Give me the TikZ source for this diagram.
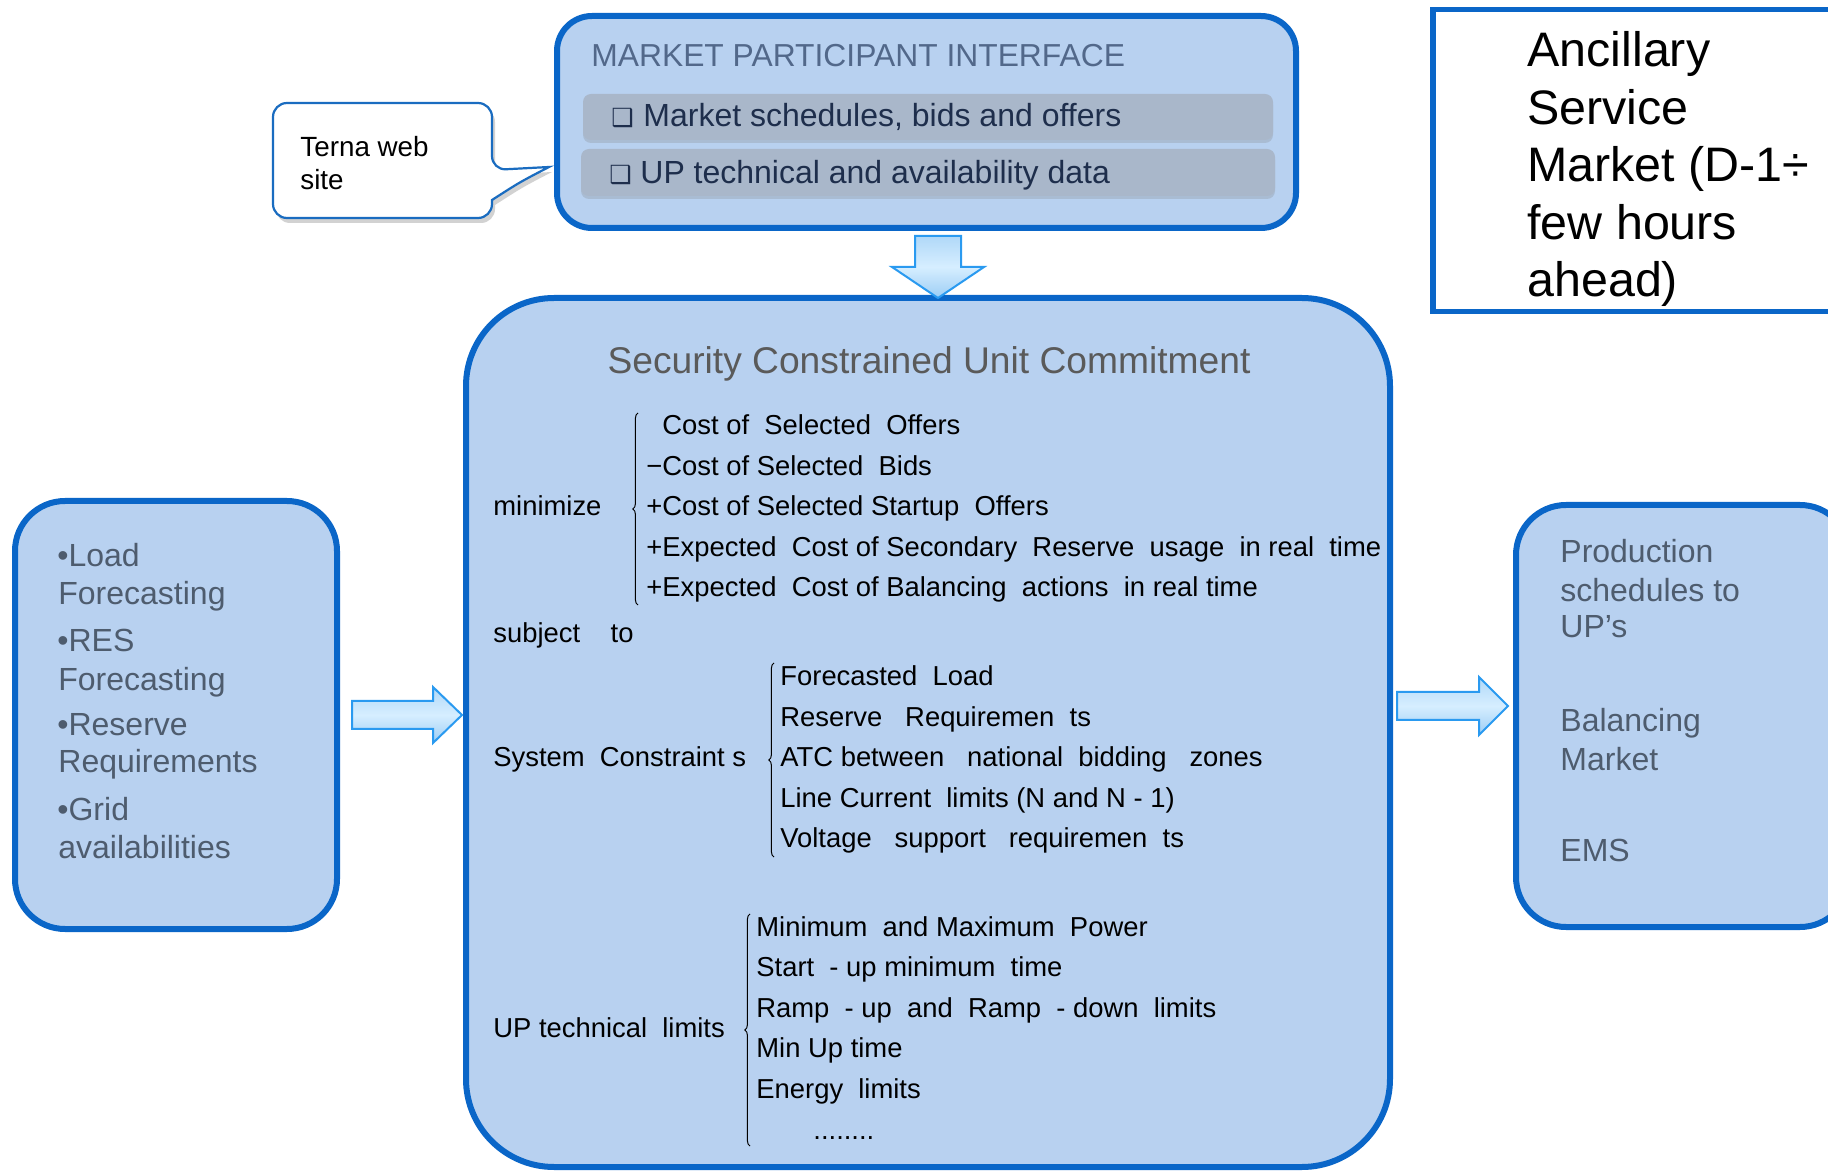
\documentclass[tikz,border=0pt]{standalone}
\usepackage{fontspec}
\setmainfont{Liberation Sans}
\newfontfamily\symfont{DejaVu Sans}
\usetikzlibrary{decorations.pathreplacing,shadows,calc}
\definecolor{boxblue}{HTML}{0A66C8}
\definecolor{boxfill}{HTML}{B8D1F0}
\definecolor{slate}{HTML}{4E5C6E}
\definecolor{titlegray}{HTML}{5A5A5A}
\definecolor{mpititle}{HTML}{52688A}
\definecolor{navy}{HTML}{1E2E4C}
\definecolor{barfill}{HTML}{A9B7CA}
\definecolor{arrowline}{HTML}{2A9AF0}
\definecolor{arrowA}{HTML}{B0D8F8}
\definecolor{arrowB}{HTML}{D6EEFF}
\definecolor{arrowC}{HTML}{9CCDF5}
\definecolor{callblue}{HTML}{1A6CC0}
\begin{document}
\begin{tikzpicture}[x=0.5pt,y=-0.5pt,
  bluebox/.style={draw=boxblue, line width=3pt, fill=boxfill, inner sep=0pt},
  mpitxt/.style={inner sep=0pt, text=mpititle, font=\fontsize{15.9}{18}\selectfont},
  bartxt/.style={inner sep=0pt, text=navy, font=\fontsize{16}{18}\selectfont},
  chk/.style={inner sep=0pt, text=navy, font=\symfont\fontsize{12.5}{14}\selectfont},
  bar/.style={fill=barfill, rounded corners=4pt, drop shadow={shadow xshift=0pt, shadow yshift=-1.5pt, opacity=0.25}},
  sidetxt/.style={inner sep=0pt, text=slate, font=\fontsize{16}{19}\selectfont},
  anctxt/.style={inner sep=0pt, text=black, font=\fontsize{24.2}{28}\selectfont},
  mtxt/.style={inner sep=0pt, text=black, font=\fontsize{13.7}{16}\selectfont},
  bracestyle/.style={decorate, decoration={brace, amplitude=2.6pt}, line width=0.5pt, black},
  blockarrow/.style={draw=arrowline, line width=1pt, top color=arrowA, bottom color=arrowC, middle color=arrowB},
  callout/.style={draw=callblue, line width=1.1pt, fill=white, drop shadow={shadow xshift=1.5pt, shadow yshift=-2.5pt, opacity=0.35}},
  ]
\clip (0,0) rectangle (1828,1171);
\fill[white] (0,0) rectangle (1828,1171);

% ---------- boxes ----------
\node[bluebox, rounded corners=17.5pt, minimum width=369.5pt, minimum height=106pt] (mpi) at (926.5,122) {};
\node[bluebox, rounded corners=44pt, minimum width=462pt, minimum height=434.5pt] (scuc) at (928,732.5) {};
\node[bluebox, rounded corners=25pt, minimum width=161pt, minimum height=214pt] (left) at (176,715) {};
\node[bluebox, rounded corners=25pt, minimum width=167pt, minimum height=211pt] (right) at (1683,716) {};
\node[draw=boxblue, line width=2.8pt, fill=white, minimum width=209pt, minimum height=151pt, inner sep=0pt] (anc) at (1642,160.5) {};

% ---------- MPI content ----------
\node[mpitxt, anchor=base west] (mpititle) at (591,67) {MARKET PARTICIPANT INTERFACE};
\fill[bar] (583,94) rectangle (1273,140);
\fill[bar] (581,149) rectangle (1275,196);
\node[chk, anchor=base west] (chk1) at (611,127) {❑};
\node[bartxt, anchor=base west] (bar1) at (643,127) {Market schedules, bids and offers};
\node[chk, anchor=base west] (chk2) at (609,184) {❑};
\node[bartxt, anchor=base west] (bar2) at (640,184) {UP technical and availability data};

% ---------- callout ----------
\path[callout] (380,103) [rounded corners=7pt] -- (492,103) -- (492,170) [sharp corners] -- (549,167) .. controls (520,182) .. (492,200) [rounded corners=7pt] -- (492,218) -- (273,218) -- (273,103) -- cycle;
\node[inner sep=0pt, anchor=base west, font=\fontsize{13.9}{16}\selectfont, text=black] (terna1) at (300,157) {Terna web};
\node[inner sep=0pt, anchor=base west, font=\fontsize{13.9}{16}\selectfont, text=black] (terna2) at (300,190) {site};

% ---------- ancillary ----------
\foreach \t [count=\i] in {Ancillary,Service,Market (D-1÷,few hours,ahead)}
  \node[anctxt, anchor=base west] (anc\i) at (1527,{67+57.5*(\i-1)}) {\t};

% ---------- left box ----------
\node[sidetxt, anchor=base west] (l1) at (57,567) {•Load};
\node[sidetxt, anchor=base west] (l2) at (58,605) {Forecasting};
\node[sidetxt, anchor=base west] (l3) at (57,652) {•RES};
\node[sidetxt, anchor=base west] (l4) at (58,690) {Forecasting};
\node[sidetxt, anchor=base west] (l5) at (57,735) {•Reserve};
\node[sidetxt, anchor=base west] (l6) at (58,773) {Requirements};
\node[sidetxt, anchor=base west] (l7) at (57,820) {•Grid};
\node[sidetxt, anchor=base west] (l8) at (58,858) {availabilities};

% ---------- right box ----------
\node[sidetxt, anchor=base west] (r1) at (1560,563) {Production};
\node[sidetxt, anchor=base west] (r2) at (1560,602) {schedules to};
\node[sidetxt, anchor=base west] (r3) at (1560,638) {UP’s};
\node[sidetxt, anchor=base west] (r4) at (1560,732) {Balancing};
\node[sidetxt, anchor=base west] (r5) at (1560,770) {Market};
\node[sidetxt, anchor=base west] (r6) at (1560,862) {EMS};

% ---------- block arrows ----------
\path[blockarrow] (915,236) -- (961,236) -- (961,267) -- (984,267) -- (938,298) -- (892,267) -- (915,267) -- cycle;
\path[blockarrow] (352,701) -- (433,701) -- (433,687) -- (462,715) -- (433,743) -- (433,729) -- (352,729) -- cycle;
\path[blockarrow] (1397,692) -- (1479,692) -- (1479,677) -- (1508,706) -- (1479,735) -- (1479,720) -- (1397,720) -- cycle;

% ---------- SCUC content ----------
\node[inner sep=0pt, anchor=base, text=titlegray, font=\fontsize{18.6}{22}\selectfont] (title) at (929,374) {Security Constrained Unit Commitment};

\node[mtxt, anchor=base west] (minimize) at (493,516) {minimize};
\draw[bracestyle] (638,605) -- (638,413);
\node[mtxt, anchor=base west] (o1) at (662,435) {Cost of\ \ Selected\ \ Offers};
\node[mtxt, anchor=base west] (o2) at (646,475.5) {−Cost of Selected\ \ Bids};
\node[mtxt, anchor=base west] (o3) at (646,516) {+Cost of Selected Startup\ \ Offers};
\node[mtxt, anchor=base west] (o4) at (646,556.5) {+Expected\ \ Cost of Secondary\ \ Reserve\ \ usage\ \ in real\ \ time};
\node[mtxt, anchor=base west] (o5) at (646,597) {+Expected\ \ Cost of Balancing\ \ actions\ \ in real time};

\node[mtxt, anchor=base west] (subj) at (493,643) {subject\ \ \ \ to};

\node[mtxt, anchor=base west] (sys) at (493,767) {System\ \ Constraint s};
\draw[bracestyle] (774,857) -- (774,663);
\foreach \t [count=\i] in {Forecasted\ \ Load,Reserve\ \ \ Requiremen\ \ ts,ATC between\ \ \ national\ \ bidding\ \ \ zones,Line Current\ \ limits (N and N - 1),Voltage\ \ \ support\ \ \ requiremen\ \ ts}
  \node[mtxt, anchor=base west] (s\i) at (780,{686+40.5*(\i-1)}) {\t};

\node[mtxt, anchor=base west] (up) at (493,1037) {UP technical\ \ limits};
\draw[bracestyle] (750,1146) -- (750,914);
\foreach \t [count=\i] in {Minimum\ \ and Maximum\ \ Power,Start\ \ - up minimum\ \ time,Ramp\ \ - up\ \ and\ \ Ramp\ \ - down\ \ limits,Min Up time,Energy\ \ limits}
  \node[mtxt, anchor=base west] (u\i) at (756,{936+40.6*(\i-1)}) {\t};
\node[mtxt, anchor=base west] (u6) at (813,1139) {........};
\end{tikzpicture}
\end{document}
